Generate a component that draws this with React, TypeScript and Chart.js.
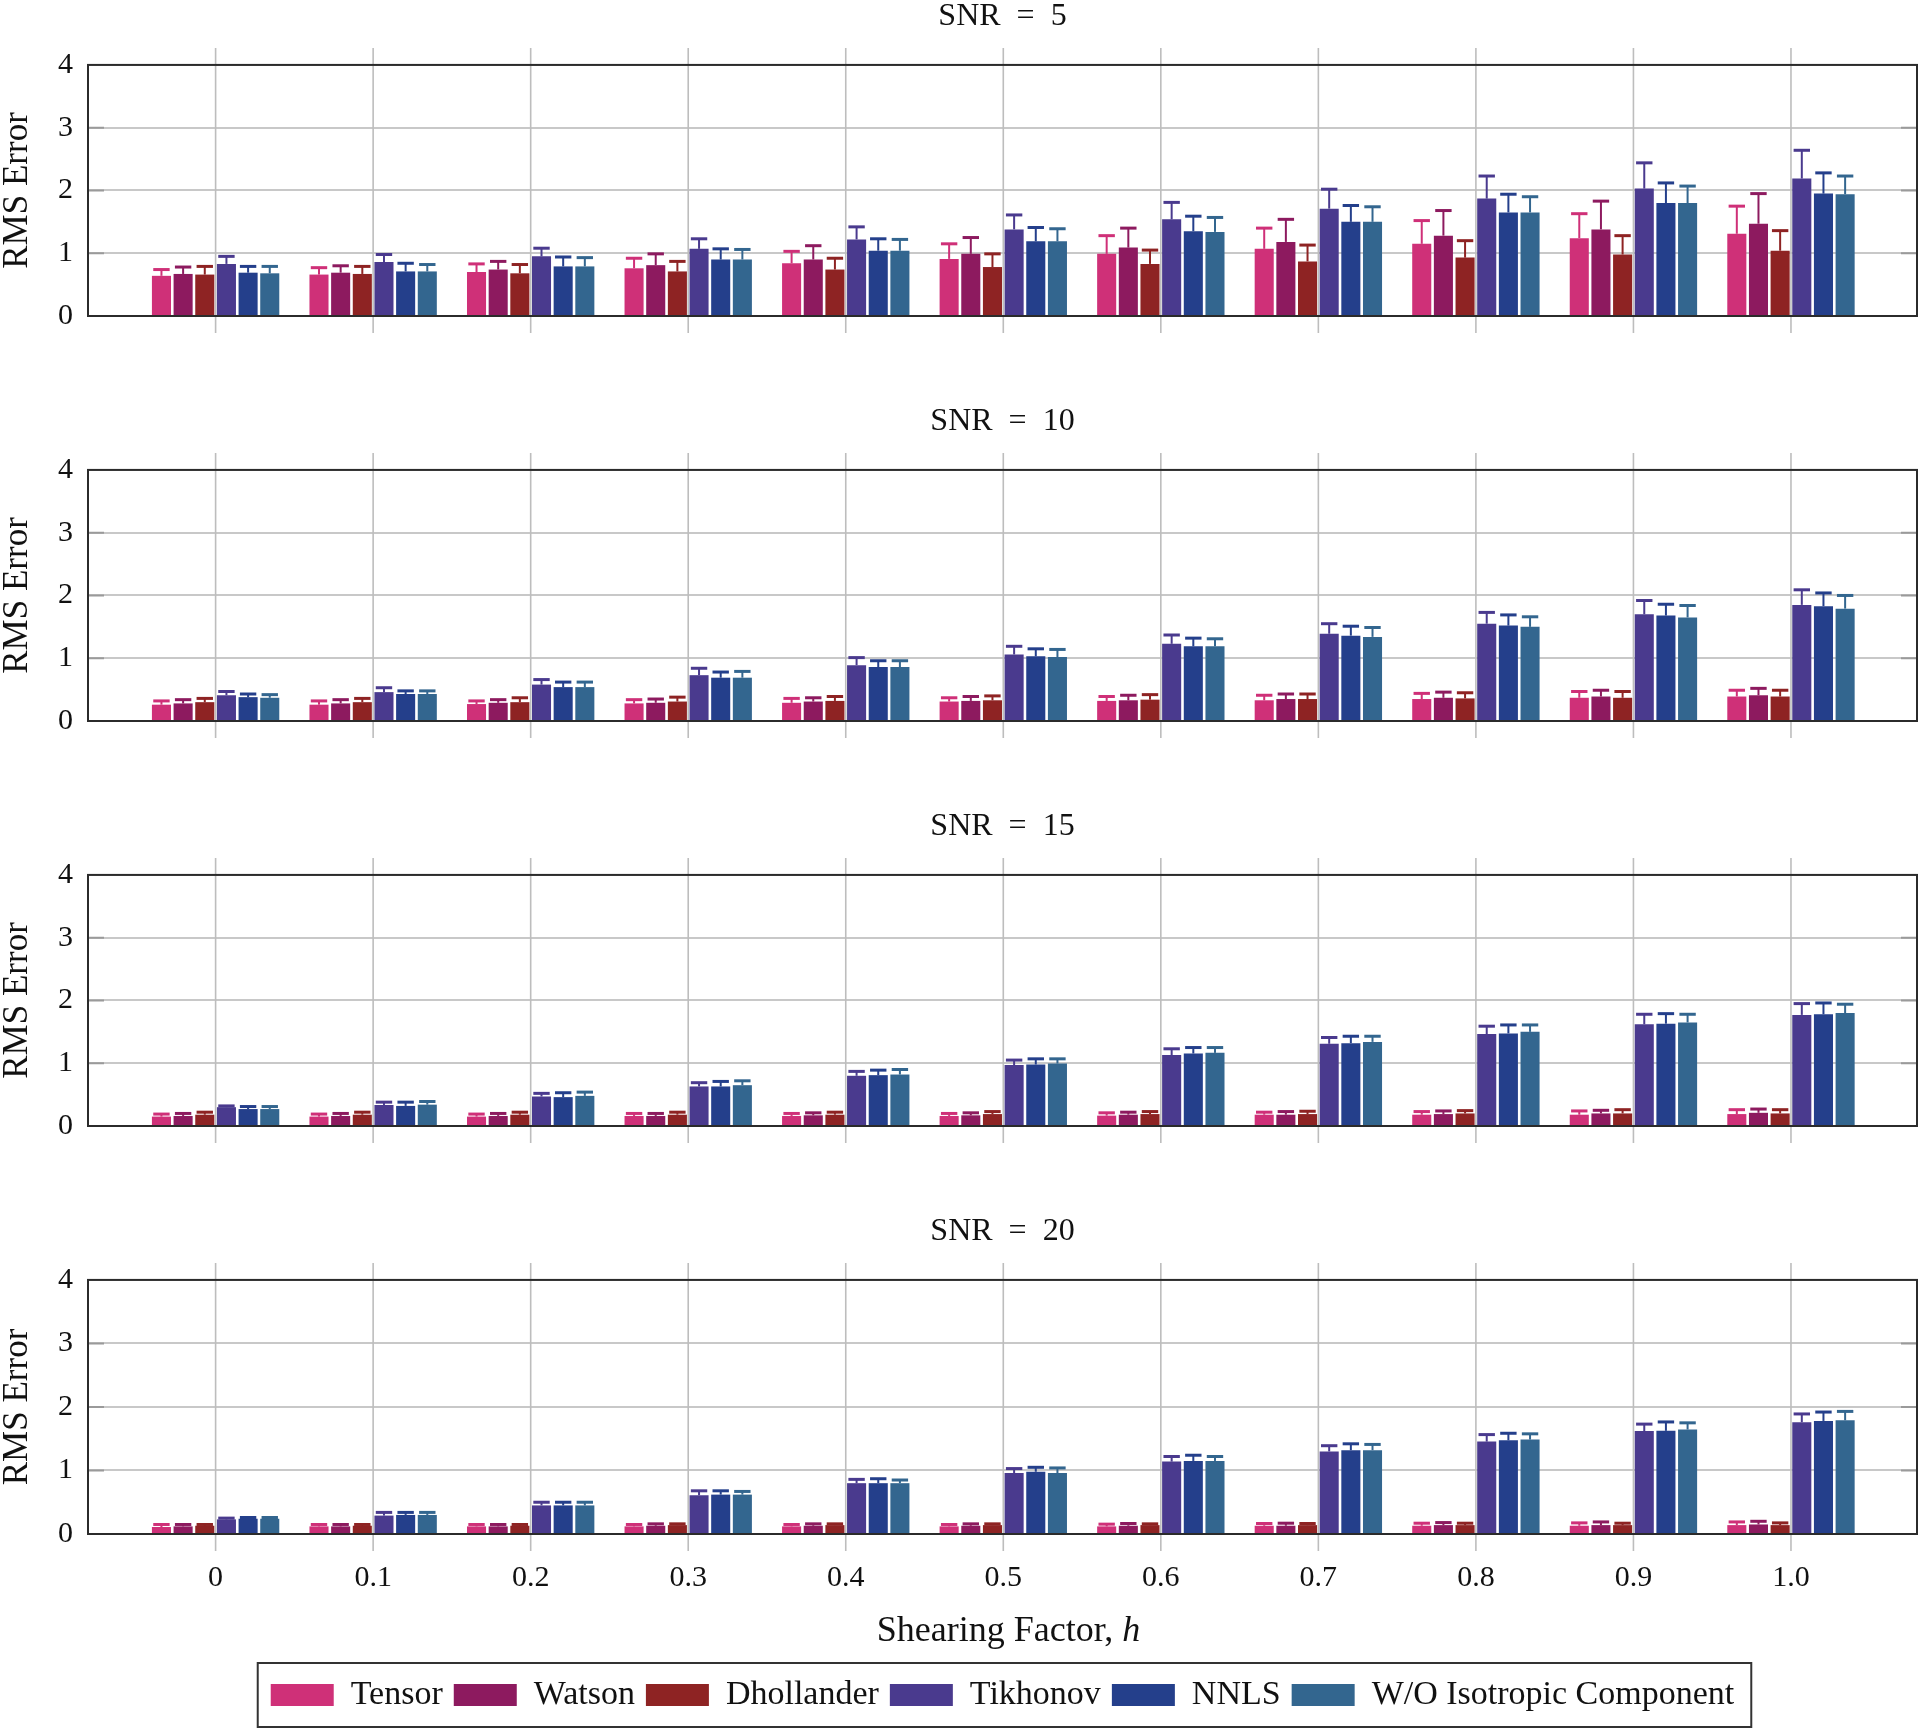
import React, { useEffect, useRef } from 'react';
import { Chart, registerables } from 'chart.js';

Chart.register(...registerables);

// ---------- data ----------
const shear = [0, 0.1, 0.2, 0.3, 0.4, 0.5, 0.6, 0.7, 0.8, 0.9, 1.0];
const shearLabels = ['0', '0.1', '0.2', '0.3', '0.4', '0.5', '0.6', '0.7', '0.8', '0.9', '1.0'];
const yTicks = [0, 1, 2, 3, 4];
const seriesNames = ['Tensor', 'Watson', 'Dhollander', 'Tikhonov', 'NNLS', 'W/O Isotropic Component'];
const seriesColors = ['#cf3078', '#8d1a5f', '#8e2323', '#4a3a8e', '#243f8b', '#33668f'];
const panelTitles = ['SNR\u2002=\u20025', 'SNR\u2002=\u200210', 'SNR\u2002=\u200215', 'SNR\u2002=\u200220'];

// SNR = 5
const snr5Tensor = [0.64, 0.66, 0.70, 0.76, 0.84, 0.91, 0.99, 1.07, 1.15, 1.24, 1.31];
const snr5TensorErr = [0.10, 0.11, 0.13, 0.16, 0.19, 0.24, 0.29, 0.33, 0.37, 0.39, 0.44];
const snr5Watson = [0.67, 0.69, 0.74, 0.81, 0.90, 0.99, 1.09, 1.18, 1.28, 1.38, 1.47];
const snr5WatsonErr = [0.11, 0.11, 0.13, 0.18, 0.22, 0.26, 0.31, 0.36, 0.40, 0.45, 0.48];
const snr5Dhollander = [0.66, 0.67, 0.68, 0.71, 0.74, 0.78, 0.83, 0.87, 0.93, 0.98, 1.04];
const snr5DhollanderErr = [0.13, 0.12, 0.14, 0.16, 0.18, 0.21, 0.22, 0.26, 0.27, 0.30, 0.32];
const snr5Tikhonov = [0.83, 0.86, 0.95, 1.07, 1.22, 1.38, 1.54, 1.71, 1.87, 2.03, 2.19];
const snr5TikhonovErr = [0.12, 0.12, 0.13, 0.16, 0.20, 0.23, 0.27, 0.31, 0.36, 0.41, 0.45];
const snr5Nnls = [0.69, 0.71, 0.79, 0.90, 1.04, 1.19, 1.35, 1.50, 1.65, 1.80, 1.95];
const snr5NnlsErr = [0.10, 0.13, 0.15, 0.17, 0.19, 0.22, 0.24, 0.26, 0.29, 0.32, 0.33];
const snr5WoIso = [0.68, 0.71, 0.79, 0.90, 1.04, 1.19, 1.34, 1.50, 1.65, 1.80, 1.94];
const snr5WoIsoErr = [0.11, 0.11, 0.14, 0.16, 0.18, 0.20, 0.23, 0.24, 0.25, 0.27, 0.29];

// SNR = 10
const snr10Tensor = [0.26, 0.26, 0.27, 0.28, 0.29, 0.31, 0.32, 0.33, 0.35, 0.37, 0.39];
const snr10TensorErr = [0.06, 0.06, 0.05, 0.06, 0.07, 0.06, 0.07, 0.08, 0.09, 0.10, 0.10];
const snr10Watson = [0.28, 0.28, 0.29, 0.29, 0.31, 0.32, 0.33, 0.35, 0.37, 0.39, 0.41];
const snr10WatsonErr = [0.06, 0.06, 0.05, 0.06, 0.06, 0.07, 0.08, 0.08, 0.09, 0.10, 0.11];
const snr10Dhollander = [0.30, 0.30, 0.30, 0.31, 0.32, 0.33, 0.34, 0.35, 0.36, 0.37, 0.39];
const snr10DhollanderErr = [0.06, 0.06, 0.07, 0.07, 0.07, 0.07, 0.08, 0.08, 0.09, 0.10, 0.10];
const snr10Tikhonov = [0.41, 0.46, 0.58, 0.73, 0.89, 1.06, 1.23, 1.39, 1.55, 1.70, 1.85];
const snr10TikhonovErr = [0.06, 0.07, 0.08, 0.11, 0.12, 0.13, 0.14, 0.16, 0.18, 0.22, 0.24];
const snr10Nnls = [0.38, 0.43, 0.54, 0.69, 0.86, 1.03, 1.19, 1.36, 1.52, 1.68, 1.83];
const snr10NnlsErr = [0.05, 0.05, 0.08, 0.09, 0.10, 0.12, 0.13, 0.15, 0.17, 0.18, 0.21];
const snr10WoIso = [0.37, 0.43, 0.54, 0.69, 0.86, 1.02, 1.19, 1.34, 1.50, 1.65, 1.79];
const snr10WoIsoErr = [0.05, 0.05, 0.08, 0.10, 0.10, 0.12, 0.12, 0.15, 0.16, 0.19, 0.21];

// SNR = 15
const snr15Tensor = [0.15, 0.15, 0.15, 0.16, 0.16, 0.16, 0.165, 0.18, 0.18, 0.18, 0.19];
const snr15TensorErr = [0.04, 0.04, 0.04, 0.04, 0.04, 0.04, 0.045, 0.04, 0.05, 0.06, 0.07];
const snr15Watson = [0.16, 0.16, 0.16, 0.16, 0.17, 0.17, 0.18, 0.18, 0.19, 0.20, 0.21];
const snr15WatsonErr = [0.04, 0.04, 0.04, 0.04, 0.04, 0.04, 0.04, 0.05, 0.05, 0.05, 0.06];
const snr15Dhollander = [0.18, 0.18, 0.18, 0.18, 0.18, 0.19, 0.19, 0.19, 0.20, 0.20, 0.20];
const snr15DhollanderErr = [0.04, 0.04, 0.04, 0.04, 0.04, 0.04, 0.04, 0.045, 0.045, 0.06, 0.06];
const snr15Tikhonov = [0.30, 0.335, 0.47, 0.63, 0.80, 0.97, 1.13, 1.31, 1.465, 1.62, 1.77];
const snr15TikhonovErr = [0.02, 0.045, 0.05, 0.06, 0.07, 0.08, 0.10, 0.10, 0.125, 0.16, 0.18];
const snr15Nnls = [0.27, 0.32, 0.46, 0.63, 0.81, 0.98, 1.155, 1.32, 1.475, 1.63, 1.78];
const snr15NnlsErr = [0.04, 0.06, 0.07, 0.08, 0.08, 0.09, 0.095, 0.11, 0.135, 0.16, 0.18];
const snr15WoIso = [0.27, 0.34, 0.48, 0.65, 0.82, 0.995, 1.165, 1.34, 1.50, 1.65, 1.80];
const snr15WoIsoErr = [0.04, 0.05, 0.06, 0.07, 0.08, 0.075, 0.085, 0.09, 0.11, 0.13, 0.14];

// SNR = 20
const snr20Tensor = [0.11, 0.12, 0.12, 0.12, 0.12, 0.12, 0.12, 0.13, 0.13, 0.13, 0.14];
const snr20TensorErr = [0.04, 0.03, 0.03, 0.03, 0.03, 0.03, 0.035, 0.035, 0.04, 0.045, 0.05];
const snr20Watson = [0.12, 0.12, 0.12, 0.13, 0.13, 0.13, 0.13, 0.13, 0.14, 0.14, 0.15];
const snr20WatsonErr = [0.03, 0.03, 0.03, 0.03, 0.03, 0.03, 0.035, 0.04, 0.04, 0.05, 0.05];
const snr20Dhollander = [0.13, 0.13, 0.13, 0.14, 0.14, 0.14, 0.14, 0.14, 0.14, 0.14, 0.14];
const snr20DhollanderErr = [0.02, 0.02, 0.02, 0.02, 0.02, 0.02, 0.02, 0.025, 0.03, 0.03, 0.035];
const snr20Tikhonov = [0.23, 0.29, 0.45, 0.61, 0.80, 0.96, 1.14, 1.30, 1.455, 1.62, 1.76];
const snr20TikhonovErr = [0.02, 0.05, 0.05, 0.07, 0.06, 0.07, 0.08, 0.09, 0.11, 0.11, 0.13];
const snr20Nnls = [0.24, 0.30, 0.45, 0.62, 0.80, 0.98, 1.15, 1.32, 1.476, 1.624, 1.78];
const snr20NnlsErr = [0.02, 0.04, 0.05, 0.06, 0.07, 0.07, 0.09, 0.10, 0.11, 0.14, 0.14];
const snr20WoIso = [0.24, 0.30, 0.45, 0.62, 0.80, 0.96, 1.15, 1.32, 1.487, 1.645, 1.79];
const snr20WoIsoErr = [0.02, 0.04, 0.05, 0.05, 0.05, 0.08, 0.07, 0.09, 0.09, 0.105, 0.14];

const panelMeans = [
  [snr5Tensor, snr5Watson, snr5Dhollander, snr5Tikhonov, snr5Nnls, snr5WoIso],
  [snr10Tensor, snr10Watson, snr10Dhollander, snr10Tikhonov, snr10Nnls, snr10WoIso],
  [snr15Tensor, snr15Watson, snr15Dhollander, snr15Tikhonov, snr15Nnls, snr15WoIso],
  [snr20Tensor, snr20Watson, snr20Dhollander, snr20Tikhonov, snr20Nnls, snr20WoIso],
];
const panelErrs = [
  [snr5TensorErr, snr5WatsonErr, snr5DhollanderErr, snr5TikhonovErr, snr5NnlsErr, snr5WoIsoErr],
  [snr10TensorErr, snr10WatsonErr, snr10DhollanderErr, snr10TikhonovErr, snr10NnlsErr, snr10WoIsoErr],
  [snr15TensorErr, snr15WatsonErr, snr15DhollanderErr, snr15TikhonovErr, snr15NnlsErr, snr15WoIsoErr],
  [snr20TensorErr, snr20WatsonErr, snr20DhollanderErr, snr20TikhonovErr, snr20NnlsErr, snr20WoIsoErr],
];

// ---------- styling ----------
const FAMILY = '"Liberation Serif", "Times New Roman", serif';
const PANEL_STEP = 405;
const LAST_HEIGHT = 1729 - 3 * PANEL_STEP;
const XTITLE_SIZE = 36;

const framePlugin = {
  id: 'frameAndErrors',
  beforeDatasetsDraw(chart: any) {
    const { ctx, chartArea: a, scales } = chart;
    const xs = scales.x;
    const ys = scales.y;
    ctx.save();
    ctx.strokeStyle = '#bdbdbd';
    ctx.lineWidth = 1.6;
    shear.forEach((v) => {
      const px = xs.getPixelForValue(v);
      ctx.beginPath();
      ctx.moveTo(px, a.top - 17);
      ctx.lineTo(px, a.bottom + 17);
      ctx.stroke();
    });
    ctx.strokeStyle = '#9a9a9a';
    ctx.lineWidth = 2;
    yTicks.slice(1, -1).forEach((v) => {
      const py = ys.getPixelForValue(v);
      ctx.beginPath();
      ctx.moveTo(a.left, py);
      ctx.lineTo(a.left + 16, py);
      ctx.moveTo(a.right - 16, py);
      ctx.lineTo(a.right, py);
      ctx.stroke();
    });
    ctx.restore();
  },
  afterDatasetsDraw(chart: any) {
    const { ctx, chartArea: a, scales } = chart;
    const ys = scales.y;
    ctx.save();
    chart.data.datasets.forEach((ds: any, d: number) => {
      const meta = chart.getDatasetMeta(d);
      meta.data.forEach((bar: any, j: number) => {
        const { x, y, width } = bar.getProps(['x', 'y', 'width'], true);
        const top = ys.getPixelForValue(ds.means[j] + ds.errors[j]);
        ctx.strokeStyle = ds.backgroundColor;
        ctx.lineWidth = 2;
        ctx.beginPath();
        ctx.moveTo(x, y);
        ctx.lineTo(x, top);
        ctx.stroke();
        ctx.lineWidth = 3;
        ctx.beginPath();
        ctx.moveTo(x - width * 0.43, top);
        ctx.lineTo(x + width * 0.43, top);
        ctx.stroke();
      });
    });
    ctx.strokeStyle = '#2b2b2b';
    ctx.lineWidth = 2;
    ctx.strokeRect(a.left, a.top, a.right - a.left, a.bottom - a.top);
    ctx.restore();
  },
};

const bottomPlugin = {
  id: 'bottomDecor',
  afterDraw(chart: any) {
    const { ctx, chartArea: a } = chart;
    ctx.save();
    // x-axis title with italic h
    const part1 = 'Shearing Factor, ';
    const part2 = 'h';
    ctx.fillStyle = '#111';
    ctx.textBaseline = 'middle';
    ctx.font = `${XTITLE_SIZE}px ${FAMILY}`;
    const w1 = ctx.measureText(part1).width;
    ctx.font = `italic ${XTITLE_SIZE}px ${FAMILY}`;
    const w2 = ctx.measureText(part2).width;
    const cx = (a.left + a.right) / 2 + 6;
    const ty = a.bottom + 98;
    const sx = cx - (w1 + w2) / 2;
    ctx.font = `${XTITLE_SIZE}px ${FAMILY}`;
    ctx.textAlign = 'left';
    ctx.fillText(part1, sx, ty);
    ctx.font = `italic ${XTITLE_SIZE}px ${FAMILY}`;
    ctx.fillText(part2, sx + w1, ty);
    // legend frame
    const boxes = chart.legend && chart.legend.legendHitBoxes;
    if (boxes && boxes.length) {
      let l = Infinity;
      let r = -Infinity;
      let c = 0;
      boxes.forEach((b: any) => {
        l = Math.min(l, b.left);
        r = Math.max(r, b.left + b.width);
        c = b.top + b.height / 2;
      });
      ctx.strokeStyle = '#333';
      ctx.lineWidth = 2;
      ctx.strokeRect(l - 13, c - 32, r - l + 30, 64);
    }
    ctx.restore();
  },
};

function Panel({ index }: { index: number }) {
  const ref = useRef<HTMLCanvasElement | null>(null);
  const isLast = index === 3;
  const height = isLast ? LAST_HEIGHT : PANEL_STEP;

  useEffect(() => {
    if (!ref.current) return;
    const means = panelMeans[index];
    const errs = panelErrs[index];
    const datasets = seriesNames.map((name, d) => ({
      label: name,
      data: shear.map((x, j) => ({ x, y: means[d][j] })),
      means: means[d],
      errors: errs[d],
      backgroundColor: seriesColors[d],
      borderColor: seriesColors[d],
      borderWidth: 0,
      categoryPercentage: 0.825,
      barPercentage: 0.88,
    }));

    const chart = new Chart(ref.current, {
      type: 'bar',
      data: { datasets } as any,
      plugins: isLast ? [framePlugin, bottomPlugin] : [framePlugin],
      options: {
        responsive: false,
        animation: false,
        devicePixelRatio: 1,
        layout: { padding: { left: 0, right: 3, top: 0, bottom: isLast ? 7 : 89 } },
        plugins: {
          tooltip: { enabled: false },
          title: {
            display: true,
            text: panelTitles[index],
            fullSize: false,
            color: '#111',
            font: { family: FAMILY, size: 32, weight: 'normal', lineHeight: 1.06 },
            padding: { top: 0, bottom: 31 },
          },
          legend: isLast
            ? {
                display: true,
                position: 'bottom',
                fullSize: false,
                labels: {
                  boxWidth: 63,
                  boxHeight: 22,
                  padding: 11,
                  color: '#111',
                  font: { family: FAMILY, size: 34 },
                },
              }
            : { display: false },
        },
        scales: {
          x: {
            type: 'linear',
            min: -0.081,
            max: 1.08,
            offset: false,
            grid: { display: false, drawTicks: false, offset: false },
            border: { display: false },
            afterBuildTicks: (s: any) => {
              s.ticks = shear.map((v) => ({ value: v }));
            },
            afterFit: isLast
              ? (s: any) => {
                  s.height += 45;
                }
              : undefined,
            ticks: {
              display: isLast,
              autoSkip: false,
              maxRotation: 0,
              padding: 26,
              color: '#111',
              font: { family: FAMILY, size: 30 },
              callback: (_v: any, i: number) => shearLabels[i],
            },
          },
          y: {
            min: 0,
            max: 4,
            afterBuildTicks: (s: any) => {
              s.ticks = yTicks.map((v) => ({ value: v }));
            },
            afterFit: (s: any) => {
              s.width = 88;
            },
            grid: { color: '#c8c8c8', lineWidth: 2, drawTicks: false },
            border: { display: false },
            ticks: {
              padding: 15,
              color: '#111',
              font: { family: FAMILY, size: 30 },
            },
            title: {
              display: true,
              text: 'RMS Error',
              color: '#111',
              font: { family: FAMILY, size: 35, lineHeight: 1.0 },
              padding: { top: 0, bottom: 0 },
            },
          },
        },
      } as any,
    });
    return () => chart.destroy();
  }, [index]);

  return (
    <div style={{ position: 'absolute', left: 0, top: index * PANEL_STEP, width: 1920, height }}>
      <canvas ref={ref} width={1920} height={height} style={{ display: 'block', width: 1920, height }} />
    </div>
  );
}

export default function App() {
  useEffect(() => {
    document.body.style.margin = '0';
    document.body.style.background = '#fff';
  }, []);
  return (
    <div style={{ position: 'relative', width: 1920, height: 1729, background: '#fff' }}>
      {[0, 1, 2, 3].map((i) => (
        <Panel key={i} index={i} />
      ))}
    </div>
  );
}
